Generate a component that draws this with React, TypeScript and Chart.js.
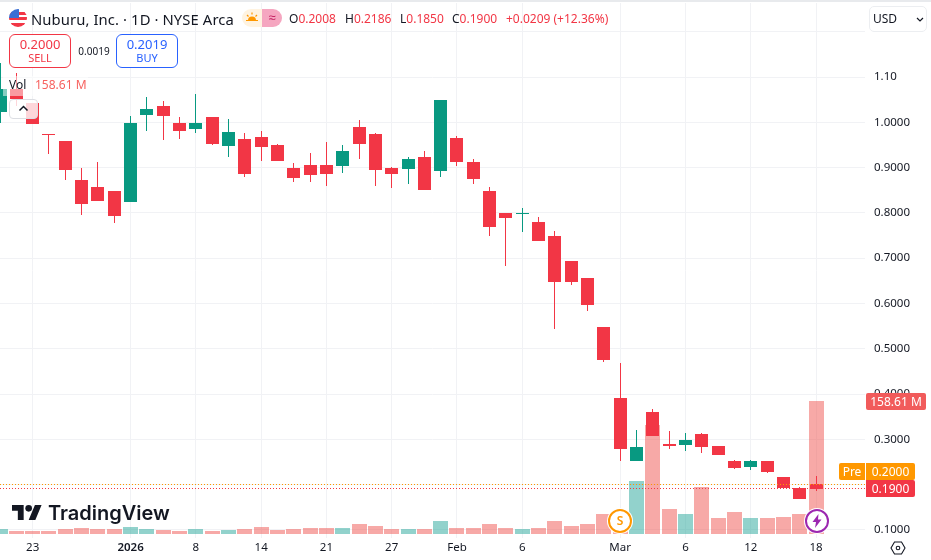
import React, { useEffect, useRef } from 'react';
import Chart from 'chart.js/auto';

const opens = [1.0234, 1.0735, 1.0426, 0.9742, 0.9588, 0.8727, 0.8573, 0.8485, 0.8242, 1.016, 1.036, 0.9985, 0.9852, 1.0116, 0.9478, 0.9632, 0.9676, 0.95, 0.8992, 0.9058, 0.9058, 0.9036, 0.9896, 0.9742, 0.8992, 0.897, 0.9235, 0.8926, 0.9654, 0.9125, 0.8485, 0.7999, 0.7977, 0.78, 0.7491, 0.6939, 0.6563, 0.548, 0.3913, 0.2523, 0.3604, 0.2898, 0.2876, 0.3119, 0.2854, 0.2523, 0.2391, 0.2523, 0.217, 0.1927, 0.2008];
const closes = [1.0735, 1.0514, 0.9962, 0.972, 0.8948, 0.8198, 0.8264, 0.7933, 0.9985, 1.0293, 1.0138, 0.9808, 0.9985, 0.9522, 0.9786, 0.886, 0.9456, 0.9147, 0.8772, 0.8838, 0.886, 0.9367, 0.9522, 0.8948, 0.886, 0.9191, 0.8507, 1.0492, 0.9125, 0.875, 0.769, 0.7889, 0.7999, 0.7381, 0.6475, 0.6475, 0.5967, 0.4752, 0.2788, 0.2832, 0.3075, 0.2854, 0.2987, 0.2832, 0.2656, 0.2369, 0.2523, 0.228, 0.1927, 0.1684, 0.19];
const highs = [1.131, 1.1088, 1.0426, 0.9742, 0.9588, 0.8992, 0.9125, 0.8485, 1.0138, 1.0558, 1.047, 1.0116, 1.0625, 1.0116, 1.0073, 0.9764, 0.9808, 0.9522, 0.9102, 0.9323, 0.9566, 0.95, 1.0051, 0.9764, 0.9014, 0.9235, 0.9367, 1.0492, 0.9698, 0.9191, 0.8573, 0.7999, 0.8109, 0.7911, 0.7602, 0.6939, 0.6563, 0.548, 0.4686, 0.3207, 0.367, 0.3185, 0.3141, 0.3141, 0.2854, 0.2545, 0.2545, 0.2523, 0.217, 0.1949, 0.2186];
const lows = [0.9991, 1.036, 0.9962, 0.9301, 0.8727, 0.7955, 0.8264, 0.7778, 0.8242, 0.9808, 0.961, 0.9632, 0.9764, 0.95, 0.9235, 0.8794, 0.9147, 0.9147, 0.8683, 0.8683, 0.8595, 0.8882, 0.9191, 0.8595, 0.8551, 0.8639, 0.8507, 0.8794, 0.9036, 0.8639, 0.7491, 0.6828, 0.7579, 0.7381, 0.5436, 0.6409, 0.5834, 0.4708, 0.2523, 0.2523, 0.3075, 0.2788, 0.2744, 0.27, 0.2656, 0.2347, 0.2325, 0.2258, 0.1927, 0.1684, 0.185];
const volumes = [6.0, 3.6, 3.6, 3.6, 6.0, 7.2, 6.0, 6.0, 8.3, 6.0, 4.8, 3.6, 6.0, 3.6, 4.8, 6.0, 8.3, 4.8, 6.0, 7.2, 7.2, 7.2, 11.9, 9.5, 6.0, 6.0, 6.0, 15.5, 7.2, 7.2, 11.9, 7.2, 6.0, 7.2, 15.5, 9.5, 11.9, 23.9, 26.2, 63.2, 130, 29.8, 23.9, 56.1, 19.1, 26.2, 19.1, 19.1, 20.3, 23.9, 158.61];

const timeTicks = [2, 8, 12, 16, 20, 24, 28, 32, 38, 42, 46, 50];
const timeLabels = ['23', '2026', '8', '14', '21', '27', 'Feb', '6', 'Mar', '6', '12', '18'];
const priceTicks = [0.1, 0.2, 0.3, 0.4, 0.5, 0.6, 0.7, 0.8, 0.9, 1.0, 1.1, 1.2];
const priceLabels = ['0.1000', '0.2000', '0.3000', '0.4000', '0.5000', '0.6000', '0.7000', '0.8000', '0.9000', '1.0000', '1.10', ''];
const lastPrice = 0.19;
const prePrice = 0.2;

const RED = '#F23645';
const GREEN = '#089981';
const FONT = '"Noto Sans", sans-serif';

// TradingView snaps its candles and price lines to whole pixels
const snapBars = {
  id: 'snapBars',
  afterDatasetsUpdate(chart: any) {
    chart.data.datasets.forEach((ds: any, i: number) => {
      chart.getDatasetMeta(i).data.forEach((el: any) => {
        if (ds.type === 'line') {
          el.y = Math.round(el.y) - 0.5;
          return;
        }
        el.x = Math.floor(el.x) + 0.5;
        el.y = Math.round(el.y);
        el.base = Math.round(el.base);
      });
    });
  },
};

const PriceChart: React.FC = () => {
  const canvasRef = useRef<HTMLCanvasElement | null>(null);

  useEffect(() => {
    if (!canvasRef.current) return;
    const candleColors = opens.map((o, i) => (closes[i] >= o ? GREEN : RED));
    const volumeColors = opens.map((o, i) => (closes[i] >= o ? 'rgba(38,166,154,0.5)' : 'rgba(239,83,80,0.5)'));

    const chart = new Chart(canvasRef.current, {
      type: 'bar',
      plugins: [snapBars],
      data: {
        datasets: [
          {
            type: 'line',
            data: [{ x: 0, y: lastPrice }, { x: 53, y: lastPrice }],
            yAxisID: 'price',
            borderColor: RED,
            borderWidth: 1,
            borderDash: [1, 2],
            pointRadius: 0,
            order: 1,
          },
          {
            type: 'line',
            data: [{ x: 0, y: prePrice }, { x: 53, y: prePrice }],
            yAxisID: 'price',
            borderColor: '#FF9800',
            borderWidth: 1,
            borderDash: [1, 2],
            pointRadius: 0,
            order: 1,
          },
          {
            data: opens.map((o, i) => ({ x: i, y: [o, closes[i]] })),
            yAxisID: 'price',
            backgroundColor: candleColors,
            barThickness: 13,
            grouped: false,
            inflateAmount: 0,
            order: 2,
          },
          {
            data: highs.map((h, i) => ({ x: i, y: [lows[i], h] })),
            yAxisID: 'price',
            backgroundColor: candleColors,
            barThickness: 1,
            grouped: false,
            inflateAmount: 0,
            order: 3,
          },
          {
            data: volumes.map((v, i) => ({ x: i, y: v })),
            yAxisID: 'volume',
            backgroundColor: volumeColors,
            barThickness: 15,
            grouped: false,
            inflateAmount: 0,
            order: 4,
          },
        ] as any,
      },
      options: {
        responsive: false,
        animation: false,
        events: [],
        layout: { padding: { top: 3, left: 0, right: 0, bottom: 0 } },
        plugins: { legend: { display: false }, tooltip: { enabled: false } },
        scales: {
          x: {
            type: 'linear',
            min: 0,
            max: 53,
            offset: false,
            border: { display: false },
            grid: { color: '#f1f2f5', offset: false, drawTicks: false },
            afterBuildTicks: (scale: any) => {
              scale.ticks = timeTicks.map((value) => ({ value }));
            },
            afterFit: (scale: any) => {
              scale.height = 22;
              scale.paddingLeft = 0;
              scale.paddingRight = 0;
            },
            ticks: {
              autoSkip: false,
              maxRotation: 0,
              padding: 3,
              color: '#131722',
              font: (ctx: any) => ({
                family: FONT,
                size: 11.5,
                weight: ctx.tick && ctx.tick.value === 8 ? 600 : 400,
              }),
              callback: (_value: any, index: number) => timeLabels[index],
            },
          },
          price: {
            type: 'linear',
            position: 'right',
            min: 0.0823,
            max: 1.2634,
            border: { display: false },
            grid: { color: '#f1f2f5', drawTicks: false },
            afterBuildTicks: (scale: any) => {
              scale.ticks = priceTicks.map((value) => ({ value }));
            },
            afterFit: (scale: any) => {
              scale.width = 66;
              // keep the tick label overhang from shrinking the plot
              scale.paddingTop = 0;
              scale.paddingBottom = 0;
            },
            ticks: {
              autoSkip: false,
              padding: 9,
              color: '#131722',
              font: { family: FONT, size: 11.5 },
              callback: (_value: any, index: number) => priceLabels[index],
            },
          },
          // volume pane shares the price area, its zero sits a little above the time axis
          volume: {
            type: 'linear',
            display: false,
            min: -4.77,
            max: 633.2,
          },
        },
      } as any,
    });

    return () => {
      chart.destroy();
    };
  }, []);

  return <canvas ref={canvasRef} width={931} height={560} style={{ display: 'block', width: 931, height: 560 }} />;
};

const box = (x: number, y: number, w: number, h: number, extra: React.CSSProperties = {}): React.CSSProperties => ({
  position: 'absolute',
  left: x,
  top: y,
  width: w,
  height: h,
  boxSizing: 'border-box',
  ...extra,
});

const label = (x: number, y: number, size: number, color: string, extra: React.CSSProperties = {}): React.CSSProperties => ({
  position: 'absolute',
  left: x,
  top: y,
  fontSize: size,
  lineHeight: '18px',
  color,
  whiteSpace: 'nowrap',
  ...extra,
});

const tag = (x: number, y: number, w: number, h: number, bg: string, radius = '0 2px 2px 0'): React.CSSProperties =>
  box(x, y, w, h, { background: bg, color: '#fff', fontSize: 12, lineHeight: `${h}px`, textAlign: 'center', borderRadius: radius });

export default function App() {
  return (
    <div style={{ position: 'fixed', left: 0, top: 0, width: 931, height: 560, background: '#fff', overflow: 'hidden', fontFamily: FONT }}>
      <PriceChart />

      <div style={box(0, 0, 931, 2, { background: '#e8eaed' })} />

      {/* flag */}
      <svg style={box(9, 9, 18, 18)} viewBox="0 0 18 18">
        <defs>
          <clipPath id="flagClip"><circle cx="9" cy="9" r="9" /></clipPath>
        </defs>
        <g clipPath="url(#flagClip)">
          <rect width="18" height="18" fill="#fff" />
          <rect y="3" width="18" height="3" fill="#F23645" />
          <rect y="8" width="18" height="3" fill="#F23645" />
          <rect y="14" width="18" height="4" fill="#F23645" />
          <rect width="10" height="9" fill="#3B6FD4" />
        </g>
      </svg>

      <div style={label(31, 10, 14.8, '#131722', { letterSpacing: 0.1 })}>Nuburu, Inc. · 1D · NYSE Arca</div>

      <div style={box(242, 9, 20, 18, { background: '#FFF3E0', borderRadius: '9px 0 0 9px' })} />
      <svg style={box(246, 12, 12, 12)} viewBox="0 0 12 12">
        <path d="M2 8.5 A4 4 0 0 1 10 8.5 Z" fill="#FF9800" />
        <path d="M6 0.5 V2.5 M1 3 L2.5 4.5 M11 3 L9.5 4.5 M0 8.5 H12" stroke="#FF9800" strokeWidth="1.2" />
      </svg>
      <div style={box(262, 9, 20, 18, { background: '#F5A6C0', borderRadius: '0 9px 9px 0', color: '#C2185B', fontSize: 13, lineHeight: '17px', textAlign: 'center' })}>≈</div>

      <div style={label(289, 10, 12, '#131722')}>O<span style={{ color: RED }}>0.2008</span></div>
      <div style={label(345, 10, 12, '#131722')}>H<span style={{ color: RED }}>0.2186</span></div>
      <div style={label(400, 10, 12, '#131722')}>L<span style={{ color: RED }}>0.1850</span></div>
      <div style={label(452, 10, 12, '#131722')}>C<span style={{ color: RED }}>0.1900</span></div>
      <div style={label(506, 10, 12, RED)}>+0.0209 (+12.36%)</div>

      {/* sell / buy */}
      <div style={box(9, 34, 62, 34, { border: `1px solid ${RED}`, borderRadius: 6, background: 'rgba(255,255,255,0.9)' })} />
      <div style={label(9, 35, 13, RED, { width: 62, textAlign: 'center' })}>0.2000</div>
      <div style={label(9, 49, 11, RED, { width: 62, textAlign: 'center' })}>SELL</div>
      <div style={label(72, 42, 10, '#131722', { width: 44, textAlign: 'center' })}>0.0019</div>
      <div style={box(116, 34, 62, 34, { border: '1px solid #2962FF', borderRadius: 6, background: 'rgba(255,255,255,0.9)' })} />
      <div style={label(116, 35, 13, '#2962FF', { width: 62, textAlign: 'center' })}>0.2019</div>
      <div style={label(116, 49, 11, '#2962FF', { width: 62, textAlign: 'center' })}>BUY</div>

      {/* volume legend */}
      <div style={box(3, 76, 85, 20, { background: 'rgba(255,255,255,0.5)' })} />
      <div style={label(9, 76, 12, '#131722')}>Vol</div>
      <div style={label(35, 76, 12, '#F7625F')}>158.61 M</div>
      <div style={box(9, 99, 29, 20, { background: 'rgba(255,255,255,0.8)', border: '1px solid #dcdee3', borderRadius: 4 })} />
      <svg style={box(18, 105, 11, 7)} viewBox="0 0 11 7">
        <path d="M1.5 5.5 L5.5 1.5 L9.5 5.5" fill="none" stroke="#131722" strokeWidth="1.5" />
      </svg>

      {/* currency */}
      <div style={box(869, 6, 58, 26, { background: '#fff', border: '1px solid #eceef1', borderRadius: 5 })} />
      <div style={label(873, 10, 12, '#131722')}>USD</div>
      <svg style={box(916, 17, 8, 5)} viewBox="0 0 8 5">
        <path d="M1 1 L4 4 L7 1" fill="none" stroke="#131722" strokeWidth="1.2" />
      </svg>

      {/* price tags */}
      <div style={tag(866, 393, 60, 17, '#F15B5B', '2px')}>158.61 M</div>
      <div style={tag(839, 463, 26, 17, '#FF9800', '2px 0 0 2px')}>Pre</div>
      <div style={tag(866, 463, 49, 17, '#FF9800')}>0.2000</div>
      <div style={tag(866, 480, 49, 17, RED)}>0.1900</div>

      {/* logo */}
      <svg style={box(12, 505, 30, 15)} viewBox="0 4 36 18">
        <path d="M14 22H7V11H0V4h14v18zM28 22h-8l7.5-18h8L28 22z" fill="#131722" />
        <circle cx="20" cy="8" r="4" fill="#131722" />
      </svg>
      <div style={label(48, 500, 20, '#131722', { lineHeight: '26px', fontFamily: 'Inter, sans-serif', fontWeight: 600 })}>TradingView</div>

      {/* events */}
      <div style={box(608, 509, 24, 24, { background: '#fff', border: '2px solid #FF9800', borderRadius: 12, color: '#FF9800', fontSize: 12, fontWeight: 600, lineHeight: '20px', textAlign: 'center', boxShadow: '0 0 0 1px #fff' })}>S</div>
      <div style={box(805, 509, 24, 24, { background: '#fff', border: '2px solid #9C27B0', borderRadius: 12, boxShadow: '0 0 0 1px #fff' })} />
      <svg style={box(812, 514, 10, 14)} viewBox="0 0 10 14">
        <path d="M6.5 0 L0.5 8 H4 L3 14 L9.5 5.5 H6 Z" fill="#9C27B0" />
      </svg>

      {/* settings */}
      <svg style={box(890, 541, 16, 14)} viewBox="0 0 16 14">
        <path d="M4.5 1 H11.5 L15 7 L11.5 13 H4.5 L1 7 Z" fill="none" stroke="#131722" strokeWidth="1.1" />
        <circle cx="8" cy="7" r="1.8" fill="none" stroke="#131722" strokeWidth="1.1" />
      </svg>
    </div>
  );
}
